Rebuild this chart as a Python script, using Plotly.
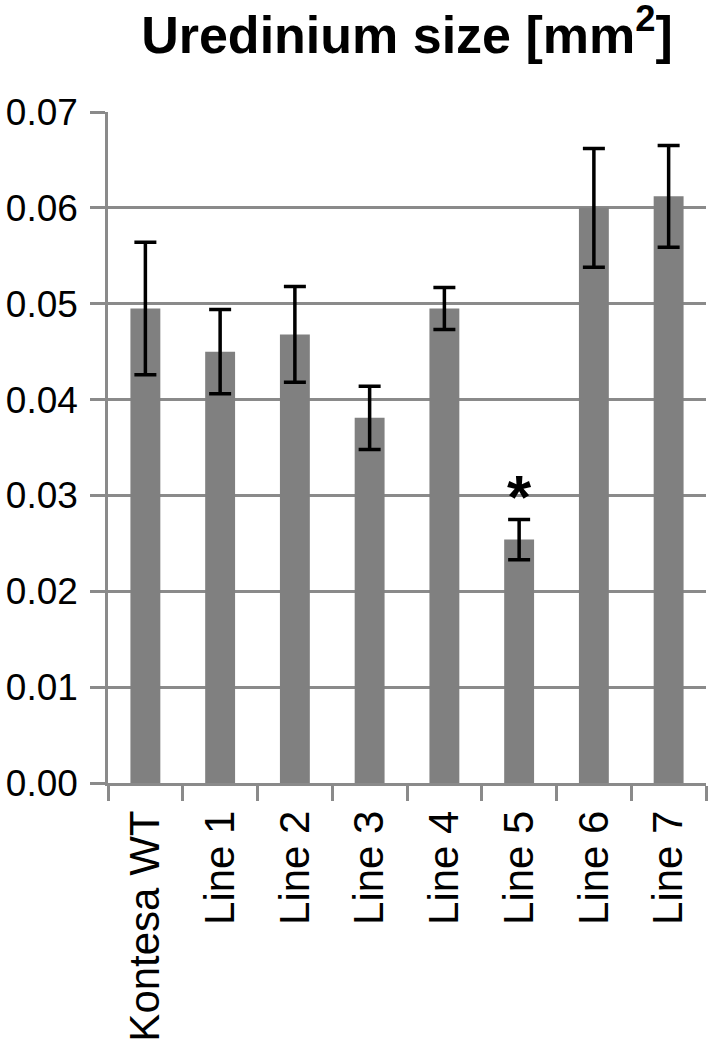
import plotly.graph_objects as go

categories = ["Kontesa WT", "Line 1", "Line 2", "Line 3", "Line 4", "Line 5", "Line 6", "Line 7"]
mean_size = [0.0495, 0.0450, 0.0468, 0.0381, 0.0495, 0.0254, 0.0600, 0.0612]
err_size = [0.0069, 0.0044, 0.0050, 0.0033, 0.0022, 0.0021, 0.0062, 0.0053]
y_ticks = [0.00, 0.01, 0.02, 0.03, 0.04, 0.05, 0.06, 0.07]
y_ticklabels = ["0.00", "0.01", "0.02", "0.03", "0.04", "0.05", "0.06", "0.07"]
star_category = "Line 5"
star_y = 0.0299

GRID = "#8a8a8a"
FONT = "Liberation Sans, Arial, sans-serif"

fig = go.Figure()
fig.add_trace(go.Bar(
    x=categories,
    y=mean_size,
    marker=dict(color="#808080", line=dict(width=0)),
    error_y=dict(type="data", array=err_size, visible=True,
                 color="black", thickness=3.5, width=11),
))

fig.add_annotation(x=star_category, y=star_y, text="<b>*</b>", showarrow=False,
                   font=dict(family=FONT, size=62, color="black"),
                   xanchor="center", yanchor="middle")

fig.update_layout(
    width=714, height=1051,
    margin=dict(l=108, r=8, t=112, b=268),
    paper_bgcolor="white", plot_bgcolor="white",
    bargap=0.6,
    showlegend=False,
    font=dict(family=FONT, color="black"),
    title=dict(text="<b>Uredinium size [mm<sup>2</sup>]</b>",
               font=dict(family=FONT, size=52, color="black"),
               x=0.5, xref="paper", xanchor="center",
               y=1 - 53 / 1051, yref="container", yanchor="bottom",
               automargin=False),
    xaxis=dict(
        type="category", tickson="boundaries",
        ticks="outside", ticklen=15, tickwidth=2.5, tickcolor=GRID,
        showline=True, linecolor=GRID, linewidth=2.5,
        showgrid=False, tickangle=-90, automargin=False,
        ticklabelstandoff=8,
        tickfont=dict(family=FONT, size=42, color="black"),
    ),
    yaxis=dict(
        range=[0, 0.07], tickvals=y_ticks, ticktext=y_ticklabels,
        ticks="outside", ticklen=15, tickwidth=2.5, tickcolor=GRID,
        showline=True, linecolor=GRID, linewidth=2.5,
        showgrid=True, gridcolor=GRID, gridwidth=2.5,
        zeroline=False, automargin=False,
        ticklabelstandoff=5,
        tickfont=dict(family=FONT, size=37, color="black"),
    ),
)

fig.write_html("out.html",
               config={"displayModeBar": False},
               post_script="document.body.style.margin='0';document.body.style.overflow='hidden';")
